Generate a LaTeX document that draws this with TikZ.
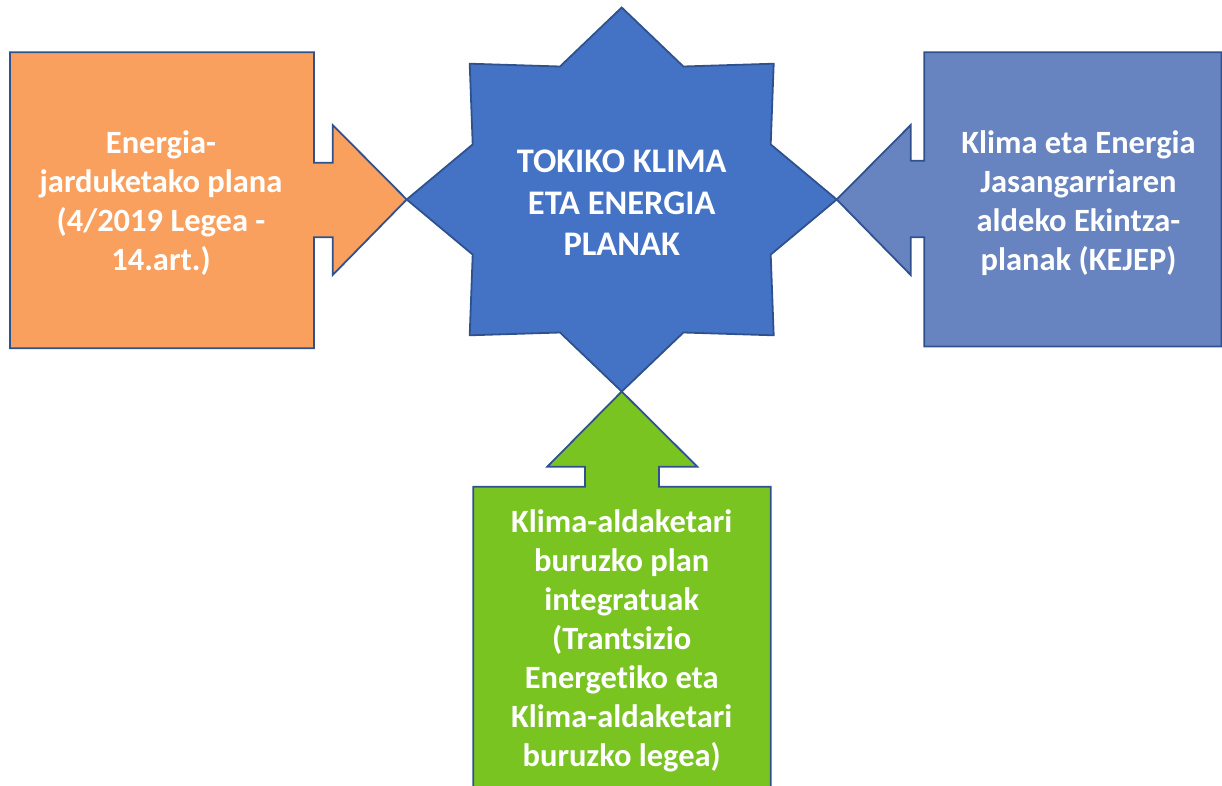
\documentclass[tikz,border=0pt]{standalone}
\usepackage{fontspec}
\setmainfont[Ligatures=NoCommon]{Carlito}
\definecolor{orangeF}{RGB}{250,160,94}
\definecolor{starF}{RGB}{68,114,196}
\definecolor{kejepF}{RGB}{104,132,192}
\definecolor{greenF}{RGB}{122,196,34}
\definecolor{edgeC}{RGB}{47,82,143}
\tikzset{
  shapebox/.style={draw=edgeC, line width=1.8pt, line join=miter},
  lbl/.style={text=white, align=center, font=\bfseries\fontsize{32.5}{39}\selectfont, inner sep=0pt},
  starlbl/.style={text=white, align=center, font=\bfseries\fontsize{34.5}{41.5}\selectfont, inner sep=0pt}
}
\begin{document}
\begin{tikzpicture}[x=1pt,y=-1pt]
\useasboundingbox (0,0) rectangle (1222,785);
\clip (0,0) rectangle (1222,785);
% left orange arrow
\filldraw[shapebox, fill=orangeF] (10,52.3) -- (314,52.3) -- (314,162.7) -- (332.7,162.7) -- (332.7,125) -- (406.7,199.5) -- (332.7,275) -- (332.7,237.3) -- (314,237.3) -- (314,348.3) -- (10,348.3) -- cycle;
% right arrow
\filldraw[shapebox, fill=kejepF] (1221.5,52.3) -- (924.3,52.3) -- (924.3,160.7) -- (910.7,160.7) -- (910.7,125) -- (836.7,199.5) -- (910.7,275) -- (910.7,237.3) -- (924.3,237.3) -- (924.3,346.5) -- (1221.5,346.5) -- cycle;
% bottom green arrow
\filldraw[shapebox, fill=greenF] (621.7,391.5) -- (697.3,466.7) -- (659,466.7) -- (659,486.7) -- (770.7,486.7) -- (770.7,800) -- (473.3,800) -- (473.3,486.7) -- (585,486.7) -- (585,466.7) -- (547.3,466.7) -- cycle;
% central star
\filldraw[shapebox, fill=starF] (836.7,199.5) -- (770.7,254.6) -- (773.7,335.3) -- (683.4,332.5) -- (621.7,391.5) -- (560.0,332.5) -- (469.7,335.3) -- (472.7,254.6) -- (406.7,199.5) -- (472.7,144.4) -- (469.7,63.7) -- (560.0,66.5) -- (621.7,7.5) -- (683.4,66.5) -- (773.7,63.7) -- (770.7,144.4) -- cycle;
% labels
\node[lbl] (left) at (161,203) {Energia-\\jarduketako plana\\(4/2019 Legea -\\14.art.)};
\node[starlbl] (center) at (621.7,203) {TOKIKO KLIMA\\ETA ENERGIA\\PLANAK};
\node[lbl] (right) at (1078.5,203) {Klima eta Energia\\Jasangarriaren\\aldeko Ekintza-\\planak (KEJEP)};
\node[lbl] (bottom) at (621.7,641) {Klima-aldaketari\\buruzko plan\\integratuak\\(Trantsizio\\Energetiko eta\\Klima-aldaketari\\buruzko legea)};
\end{tikzpicture}
\end{document}
